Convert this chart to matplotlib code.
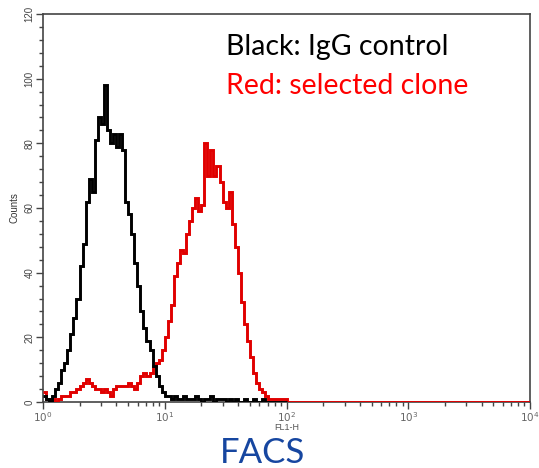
import numpy as np
import matplotlib
matplotlib.use("Agg")
import matplotlib.pyplot as plt
from matplotlib.ticker import FixedLocator, NullFormatter, LogLocator

# FACS channel counts, 40 channels per decade, starting at 10^0
igg_counts = [2, 1, 0, 2, 4, 6, 10, 12, 16, 21,
              26, 32, 42, 49, 62, 69, 65, 81, 88, 86,
              98, 84, 80, 83, 79, 83, 78, 62, 58, 52,
              43, 36, 28, 23, 19, 16, 11, 8, 5, 3,
              2, 2, 1, 2, 1, 1, 2, 1, 1, 1,
              2, 1, 0, 1, 1, 2, 0, 1, 1, 1,
              0, 1, 0, 1, 0, 0, 1, 0, 0, 1,
              0, 0, 1, 0, 0, 0, 0, 0, 0, 0]
clone_counts = [3, 1, 1, 1, 0, 1, 2, 2, 2, 3,
                3, 4, 5, 6, 7, 6, 5, 4, 4, 3,
                4, 3, 2, 4, 5, 5, 5, 5, 6, 5,
                4, 6, 8, 9, 8, 9, 11, 12, 13, 16,
                20, 25, 30, 39, 43, 47, 46, 52, 56, 60,
                63, 59, 61, 80, 70, 78, 70, 73, 68, 62,
                60, 65, 55, 48, 40, 31, 24, 19, 14, 9,
                6, 4, 3, 2, 1, 1, 1, 1, 1, 1]
tail_zeros = [0] * 80  # channels from 10^2 to 10^4

channels_per_decade = 40
y_ticks = [0, 20, 40, 60, 80, 100, 120]
x_ticks = [1, 10, 100, 1000, 10000]
x_tick_labels = [r"$10^0$", r"$10^1$", r"$10^2$", r"$10^3$", r"$10^4$"]

fig = plt.figure(figsize=(5.39, 4.68), dpi=100)
ax = fig.add_axes([43 / 539, 1 - 402 / 468, (530 - 43) / 539, (402 - 14) / 468])

red_vals = np.array(clone_counts + tail_zeros, dtype=float)
red_edges = 10 ** (np.arange(len(red_vals) + 1) / channels_per_decade)
blk_vals = np.array(igg_counts, dtype=float)
blk_edges = 10 ** (np.arange(len(blk_vals) + 1) / channels_per_decade)

ax.stairs(red_vals, red_edges, color="#e00000", linewidth=2.1, baseline=None, zorder=3)
ax.stairs(blk_vals, blk_edges, color="black", linewidth=2.1, baseline=None, zorder=4)

ax.set_xscale("log")
ax.set_xlim(1, 10000)
ax.set_ylim(0, 120)

ax.set_yticks(y_ticks)
ax.yaxis.set_minor_locator(FixedLocator(np.arange(0, 121, 4)))
ax.set_xticks(x_ticks)
ax.set_xticklabels(x_tick_labels)
ax.xaxis.set_minor_locator(LogLocator(base=10, subs=np.arange(2, 10), numticks=20))
ax.xaxis.set_minor_formatter(NullFormatter())

for lab in ax.get_yticklabels():
    lab.set_rotation(90)
    lab.set_va("center")
    lab.set_fontfamily("Liberation Sans")
    lab.set_fontsize(7)
    lab.set_color("#444444")
for lab in ax.get_xticklabels():
    lab.set_fontfamily("Liberation Sans")
    lab.set_fontsize(7.5)
    lab.set_color("#666666")

ax.tick_params(axis="both", which="major", direction="out", length=5, width=1, color="#444444", pad=1)
ax.tick_params(axis="both", which="minor", direction="out", length=3, width=1, color="#444444")
for sp in ax.spines.values():
    sp.set_color("#444444")
    sp.set_linewidth(1.2)

ax.set_ylabel("Counts", fontsize=7, family="Liberation Sans", color="#333333", labelpad=4)
fig.text(287 / 539, 1 - 428 / 468, "FL1-H", fontsize=6.5, family="Liberation Sans",
         color="#555555", ha="center", va="center")

fig.text(226 / 539, 1 - 47 / 468, "Black: IgG control", fontsize=20.5, family="Lato",
         color="black", ha="left", va="center")
fig.text(226 / 539, 1 - 86 / 468, "Red: selected clone", fontsize=20.5, family="Lato",
         color="#ff0000", ha="left", va="center")
fig.text(263 / 539, 1 - 453 / 468, "FACS", fontsize=25, family="Lato",
         color="#1646a0", ha="center", va="center")

fig.savefig("out.png", dpi=100)
